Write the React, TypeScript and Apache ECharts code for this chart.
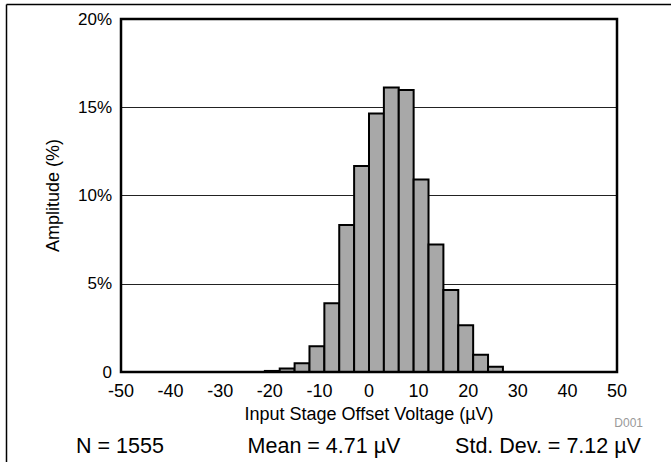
import React, { useEffect, useRef } from "react";
import * as echarts from "echarts";

const binStarts = [-21, -18, -15, -12, -9, -6, -3, 0, 3, 6, 9, 12, 15, 18, 21, 24];
const amplitudes = [0.06, 0.2, 0.5, 1.46, 3.9, 8.33, 11.67, 14.64, 16.12, 15.98, 10.9, 7.23, 4.64, 2.65, 0.98, 0.3];
const binWidth = 3;
const xTicks = { min: -50, max: 50, interval: 10 };
const yTicks = { min: 0, max: 20, interval: 5 };
const footer = ["N = 1555", "Mean = 4.71 µV", "Std. Dev. = 7.12 µV"];

const FONT = "'Liberation Sans', Arial, sans-serif";

export default function App() {
  const ref = useRef<HTMLDivElement>(null);
  useEffect(() => {
    if (!ref.current) return;
    const chart = echarts.init(ref.current, undefined, { renderer: "svg" });
    const data = binStarts.map((s, i) => [s, amplitudes[i]]);
    chart.setOption({
      animation: false,
      textStyle: { fontFamily: FONT },
      grid: {
        left: 121,
        right: 54,
        top: 19,
        bottom: 90,
        show: true,
        borderColor: "#000",
        borderWidth: 2.5,
        z: 10,
      },
      xAxis: {
        type: "value",
        min: xTicks.min,
        max: xTicks.max,
        interval: xTicks.interval,
        axisLine: { show: false },
        axisTick: { show: false },
        splitLine: { show: false },
        axisLabel: { color: "#000", fontSize: 18, fontFamily: FONT, margin: 10 },
        name: "Input Stage Offset Voltage (µV)",
        nameLocation: "middle",
        nameGap: 31,
        nameTextStyle: { color: "#000", fontSize: 18, fontFamily: FONT },
      },
      yAxis: {
        type: "value",
        min: yTicks.min,
        max: yTicks.max,
        interval: yTicks.interval,
        axisLine: { show: false },
        axisTick: { show: false },
        splitLine: { show: true, lineStyle: { color: "#222", width: 1 } },
        axisLabel: {
          color: "#000",
          fontSize: 17,
          fontFamily: FONT,
          margin: 9,
          formatter: (v: number) => (v === 0 ? "0" : v + "%"),
        },
        name: "Amplitude (%)",
        nameLocation: "middle",
        nameGap: 59,
        nameRotate: 90,
        nameTextStyle: { color: "#000", fontSize: 18, fontFamily: FONT },
      },
      series: [
        {
          type: "custom",
          data,
          renderItem: (params: any, api: any) => {
            const x0 = api.value(0);
            const y = api.value(1);
            const p0 = api.coord([x0, 0]);
            const p1 = api.coord([x0 + binWidth, y]);
            return {
              type: "rect",
              shape: { x: p0[0], y: p1[1], width: p1[0] - p0[0], height: p0[1] - p1[1] },
              style: { fill: "#a8a8a8", stroke: "#000", lineWidth: 2 },
            };
          },
        },
      ],
      graphic: [
        { type: "line", shape: { x1: 6.5, y1: 4.5, x2: 671, y2: 4.5 }, style: { stroke: "#000", lineWidth: 1.5 } },
        { type: "line", shape: { x1: 6.5, y1: 4.5, x2: 6.5, y2: 462 }, style: { stroke: "#000", lineWidth: 1.5 } },
        {
          type: "text",
          x: 643,
          y: 423,
          style: { text: "D001", fill: "#999", font: `12px ${FONT}`, textAlign: "right", textVerticalAlign: "middle" },
        },
        {
          type: "text",
          x: 120,
          y: 446,
          style: { text: footer[0], fill: "#000", font: `21.5px ${FONT}`, textAlign: "center", textVerticalAlign: "middle" },
        },
        {
          type: "text",
          x: 324,
          y: 446,
          style: { text: footer[1], fill: "#000", font: `21.5px ${FONT}`, textAlign: "center", textVerticalAlign: "middle" },
        },
        {
          type: "text",
          x: 548,
          y: 446,
          style: { text: footer[2], fill: "#000", font: `21.5px ${FONT}`, textAlign: "center", textVerticalAlign: "middle" },
        },
      ],
    });
    return () => chart.dispose();
  }, []);
  return (
    <div
      ref={ref}
      style={{ position: "fixed", left: 0, top: 0, width: 671, height: 462, background: "#fff" }}
    />
  );
}
